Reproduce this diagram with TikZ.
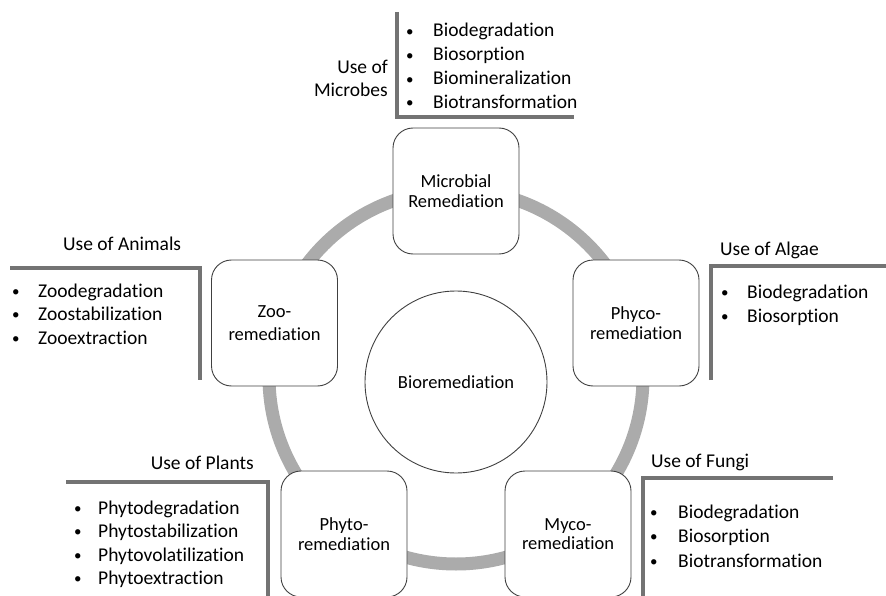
\documentclass[tikz,border=0pt]{standalone}
\usepackage{fontspec}
\setmainfont{Carlito}[Ligatures={NoCommon}]
\newcommand\smallbul{\raisebox{0.8pt}{\fontsize{15}{15}\selectfont •}}
\newcommand\bitem[5]{\node[item] (#1) at (#2,#3) {\makebox[#4pt][l]{\smallbul}#5};}
\begin{document}
\begin{tikzpicture}[x=1pt,y=-1pt,
  box/.style={draw=black!75, line width=0.9pt, fill=white, rounded corners=20pt,
    minimum width=126pt, minimum height=126pt, align=center,
    font=\fontsize{18.5}{19.5}\selectfont, inner sep=2pt},
  hub/.style={draw=black!75, line width=0.9pt, fill=white, circle,
    minimum size=182pt, inner sep=0pt, font=\fontsize{18.5}{19.5}\selectfont},
  ringline/.style={draw=black!33, line width=13pt},
  bracket/.style={draw=black!55, line width=3.5pt},
  item/.style={anchor=base west, inner sep=0pt, font=\fontsize{19.5}{24}\selectfont},
  head/.style={inner sep=0pt, font=\fontsize{19.5}{24}\selectfont}]
\useasboundingbox (0,0) rectangle (886,596);

% ring
\coordinate (rc) at (456,377);
\draw[ringline] (rc) circle[radius=187pt];

% hub and boxes
\node[hub] (hub) at (456,382) {Bioremediation};
\node[box] (mic) at (456,191) {Microbial\\Remediation};
\node[box] (zoo) at (274.5,323) {Zoo-\\[4pt]remediation};
\node[box] (phy) at (636,323) {Phyco-\\remediation};
\node[box] (pla) at (344,534) {Phyto-\\remediation};
\node[box] (myc) at (568,534) {Myco-\\remediation};

% brackets
\draw[bracket] (397,12) -- (397,117) -- (574,117);
\draw[bracket] (10,268) -- (200,268) -- (200,380);
\draw[bracket] (711,380) -- (711,266) -- (886,266);
\draw[bracket] (66,482) -- (268,482) -- (268,596);
\draw[bracket] (833,478) -- (643,478) -- (643,596);

% headings
\node[head, anchor=base east] (hmic1) at (388,74) {Use of};
\node[head, anchor=base east] (hmic2) at (388,97) {Microbes};
\node[head, anchor=base west] (hzoo) at (63,251) {Use of Animals};
\node[head, anchor=base west] (halg) at (720,255) {Use of Algae};
\node[head, anchor=base east] (hpla) at (254,469) {Use of Plants};
\node[head, anchor=base west] (hfun) at (651,467) {Use of Fungi};

% microbes list
\bitem{m1}{406}{37}{27}{Biodegradation}
\bitem{m2}{406}{61}{27}{Biosorption}
\bitem{m3}{406}{85}{27}{Biomineralization}
\bitem{m4}{406}{108.5}{27}{Biotransformation}

% animals list
\bitem{z1}{12}{297}{26}{Zoodegradation}
\bitem{z2}{12}{320.5}{26}{Zoostabilization}
\bitem{z3}{12}{344}{26}{Zooextraction}

% algae list
\bitem{a1}{721}{298}{26}{Biodegradation}
\bitem{a2}{721}{322}{26}{Biosorption}

% plants list
\bitem{p1}{74}{514}{24}{Phytodegradation}
\bitem{p2}{74}{537.5}{24}{Phytostabilization}
\bitem{p3}{74}{561}{24}{Phytovolatilization}
\bitem{p4}{74}{584.5}{24}{Phytoextraction}

% fungi list
\bitem{f1}{650}{518}{28}{Biodegradation}
\bitem{f2}{650}{542.5}{28}{Biosorption}
\bitem{f3}{650}{567}{28}{Biotransformation}
\end{tikzpicture}
\end{document}
